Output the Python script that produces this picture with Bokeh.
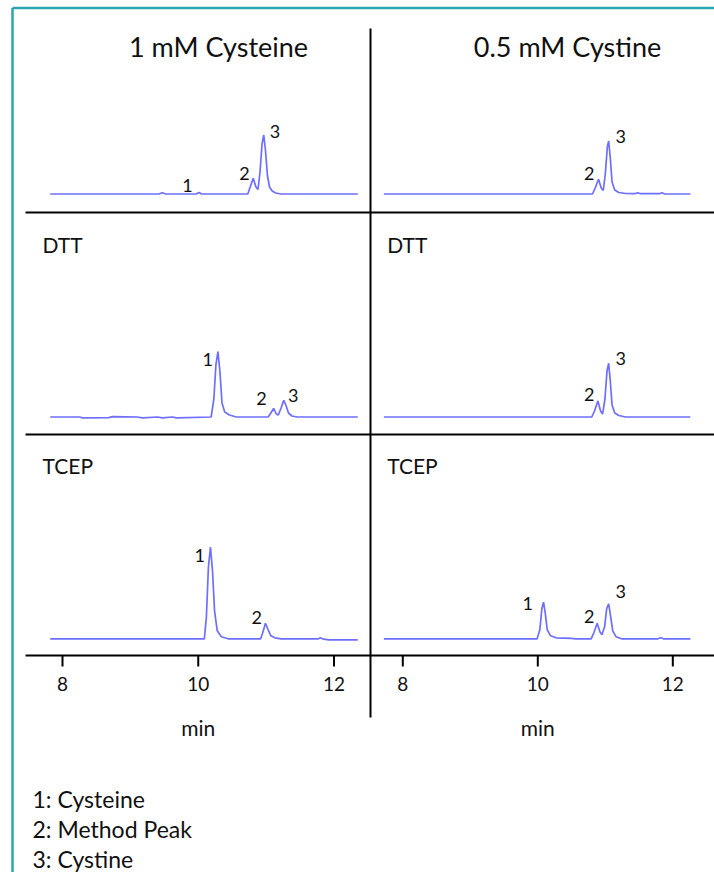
from bokeh.plotting import figure
from bokeh.models import Range1d
from bokeh.core.properties import value
from bokeh.embed import file_html
from bokeh.resources import INLINE

# ---------------- data ----------------
column_titles = ["1 mM Cysteine", "0.5 mM Cystine"]
row_titles = ["", "DTT", "TCEP"]
x_ticks = [8, 10, 12]
x_title = "min"
peak_key = ["1: Cysteine", "2: Method Peak", "3: Cystine"]

# 1 mM cysteine, no reductant
cys_ctrl_t = [7.82, 9.42, 9.47, 9.52, 9.97, 10.01, 10.05, 10.73, 10.77, 10.81, 10.85, 10.88,
              10.91, 10.94, 10.965, 10.99, 11.02, 11.05, 11.09, 11.14, 11.22, 12.35]
cys_ctrl_y = [0, 0, 1.2, 0, 0, 1.5, 0, 0, 8, 15.7, 7, 4.5,
              22, 50, 59, 44, 18, 7, 3, 1, 0, 0]
cys_ctrl_lab = ["1", "2", "3"]
cys_ctrl_lab_t = [9.84, 10.68, 11.13]
cys_ctrl_lab_y = [9, 20.5, 63]

# 0.5 mM cystine, no reductant
cyss_ctrl_t = [7.72, 10.81, 10.85, 10.90, 10.94, 10.97, 11.00, 11.03, 11.05, 11.075, 11.10,
               11.14, 11.20, 11.30, 11.44, 11.48, 11.52, 11.80, 11.84, 11.88, 12.26]
cyss_ctrl_y = [0, 0, 6, 14.7, 6, 3.5, 20, 47, 53, 35, 12,
               4, 1.5, 0.5, 0.3, 1.2, 0.3, 0.3, 1.2, 0, 0]
cyss_ctrl_lab = ["2", "3"]
cyss_ctrl_lab_t = [10.76, 11.23]
cyss_ctrl_lab_y = [20.5, 58]

# 1 mM cysteine + DTT
cys_dtt_t = [7.82, 8.25, 8.30, 8.68, 8.74, 9.10, 9.18, 9.40, 9.47, 9.62, 9.68, 10.19, 10.23,
             10.26, 10.29, 10.32, 10.35, 10.39, 10.46, 10.56, 11.03, 11.08, 11.11, 11.15,
             11.18, 11.22, 11.26, 11.29, 11.33, 11.38, 11.46, 12.35]
cys_dtt_y = [0, 0, -0.8, -0.6, 0.4, 0, -0.8, 0, -0.8, 0, -0.8, 0, 18,
             52, 65.3, 45, 14, 5, 2, 0, 0, 5, 8.7, 3,
             2, 9, 16.7, 12, 4, 1, 0, 0]
cys_dtt_lab = ["1", "2", "3"]
cys_dtt_lab_t = [10.14, 10.93, 11.40]
cys_dtt_lab_y = [57.5, 18.5, 22]

# 0.5 mM cystine + DTT
cyss_dtt_t = [7.72, 10.80, 10.84, 10.89, 10.93, 10.96, 10.995, 11.025, 11.05, 11.075, 11.10,
              11.14, 11.20, 11.30, 12.26]
cyss_dtt_y = [0, 0, 6, 16, 6, 3, 18, 46, 53.7, 35, 12,
              4, 1.5, 0, 0]
cyss_dtt_lab = ["2", "3"]
cyss_dtt_lab_t = [10.76, 11.23]
cyss_dtt_lab_y = [23, 59]

# 1 mM cysteine + TCEP
cys_tcep_t = [7.82, 10.09, 10.12, 10.15, 10.18, 10.21, 10.24, 10.28, 10.34, 10.44, 10.92,
              10.95, 10.99, 11.03, 11.07, 11.13, 11.22, 11.77, 11.80, 11.83, 11.92, 12.35]
cys_tcep_y = [0, 0, 22, 72, 91.6, 68, 28, 8, 2, 0, 0,
              6, 15.6, 9, 3, 1, 0, 0, 1, 0, -1, -1]
cys_tcep_lab = ["1", "2"]
cys_tcep_lab_t = [10.02, 10.86]
cys_tcep_lab_y = [83, 21.5]

# 0.5 mM cystine + TCEP
cyss_tcep_t = [7.72, 9.99, 10.03, 10.06, 10.085, 10.11, 10.14, 10.19, 10.27, 10.50, 10.56,
               10.79, 10.83, 10.88, 10.92, 10.95, 10.99, 11.02, 11.05, 11.08, 11.11, 11.16,
               11.24, 11.78, 11.82, 11.86, 12.26]
cyss_tcep_y = [0, 0, 9, 30, 36.6, 26, 9, 3, 1, 0.5, 0,
               0, 6, 15.6, 7, 4, 12, 30, 35, 22, 8, 2,
               0, 0, 1, 0, 0]
cyss_tcep_lab = ["1", "2", "3"]
cyss_tcep_lab_t = [9.85, 10.76, 11.23]
cyss_tcep_lab_y = [35, 22, 47]

panels = [
    ("L", 0, cys_ctrl_t, cys_ctrl_y, cys_ctrl_lab, cys_ctrl_lab_t, cys_ctrl_lab_y),
    ("R", 0, cyss_ctrl_t, cyss_ctrl_y, cyss_ctrl_lab, cyss_ctrl_lab_t, cyss_ctrl_lab_y),
    ("L", 1, cys_dtt_t, cys_dtt_y, cys_dtt_lab, cys_dtt_lab_t, cys_dtt_lab_y),
    ("R", 1, cyss_dtt_t, cyss_dtt_y, cyss_dtt_lab, cyss_dtt_lab_t, cyss_dtt_lab_y),
    ("L", 2, cys_tcep_t, cys_tcep_y, cys_tcep_lab, cys_tcep_lab_t, cys_tcep_lab_y),
    ("R", 2, cyss_tcep_t, cyss_tcep_y, cyss_tcep_lab, cyss_tcep_lab_t, cyss_tcep_lab_y),
]

# ---------------- layout (canvas pixels) ----------------
W, H = 714, 872
FONT = value("Lato")
TRACE = "#6e6eff"
INK = "#111111"

X0 = {"L": 62.0, "R": 402.3}      # canvas px of t = 8 min
SX = {"L": 67.875, "R": 67.5}     # px per minute
BASE = [193.5, 416.5, 638.3]      # canvas px of each row's baseline
SEP = [212, 434, 655]             # separator lines (last one = time axis)
COL_LEFT = {"L": 42, "R": 386.7}
TITLE_X = {"L": 218, "R": 567}

p = figure(width=W, height=H, x_range=Range1d(0, W), y_range=Range1d(H, 0),
           x_axis_type=None, y_axis_type=None, min_border=0,
           output_backend="svg", toolbar_location=None,
           outline_line_color=None, background_fill_color="white",
           border_fill_color="white")

p.extra_x_ranges = {k: Range1d(8 - X0[k] / SX[k], 8 + (W - X0[k]) / SX[k]) for k in X0}
p.extra_y_ranges = {f"r{i}": Range1d(-(H - b), b) for i, b in enumerate(BASE)}

# frame border (teal)
p.segment(x0=[12, 12], y0=[7.5, 7.5], x1=[W + 5, 12], y1=[7.5, H + 5],
          line_color="#29a6b1", line_width=2.5)

# black separators and vertical divider
p.segment(x0=[25] * 3, y0=SEP, x1=[W + 5] * 3, y1=SEP, line_color="black", line_width=2)
p.segment(x0=[370], y0=[28], x1=[370], y1=[717], line_color="black", line_width=2)

for key in ("L", "R"):
    # ticks on time axis
    p.segment(x0=x_ticks, y0=[SEP[2]] * len(x_ticks), x1=x_ticks,
              y1=[SEP[2] + 11] * len(x_ticks), x_range_name=key,
              line_color="black", line_width=2)
    p.text(x=x_ticks, y=[683] * len(x_ticks), text=[str(t) for t in x_ticks],
           x_range_name=key, text_font=FONT, text_font_size="19px",
           text_align="center", text_baseline="middle", text_color=INK)
    p.text(x=[(x_ticks[0] + x_ticks[-1]) / 2], y=[727], text=[x_title],
           x_range_name=key, text_font=FONT, text_font_size="21px",
           text_align="center", text_baseline="middle", text_color=INK)

# column titles
p.text(x=[TITLE_X["L"], TITLE_X["R"]], y=[46, 46], text=column_titles,
       text_font=FONT, text_font_size="27px", text_align="center",
       text_baseline="alphabetic", text_color=INK)

# row titles
row_base = [None, 244.3, 465]
for i, name in enumerate(row_titles):
    if not name:
        continue
    p.text(x=[COL_LEFT["L"], COL_LEFT["R"]], y=[row_base[i]] * 2, text=[name, name],
           text_font=FONT, text_font_size="21px", text_align="left",
           text_baseline="alphabetic", text_color=INK)

# traces + peak numbers
for key, row, t, y, lab, lab_t, lab_y in panels:
    p.line(t, y, x_range_name=key, y_range_name=f"r{row}",
           line_color=TRACE, line_width=1.7)
    p.text(x=lab_t, y=lab_y, text=lab, x_range_name=key, y_range_name=f"r{row}",
           text_font=FONT, text_font_size="18px", text_align="center",
           text_baseline="middle", text_color=INK)

# peak key
p.text(x=[32] * len(peak_key), y=[798, 828, 858], text=peak_key,
       text_font=FONT, text_font_size="23px", text_align="left",
       text_baseline="alphabetic", text_color=INK)

open("out.html", "w").write(file_html(p, INLINE))
